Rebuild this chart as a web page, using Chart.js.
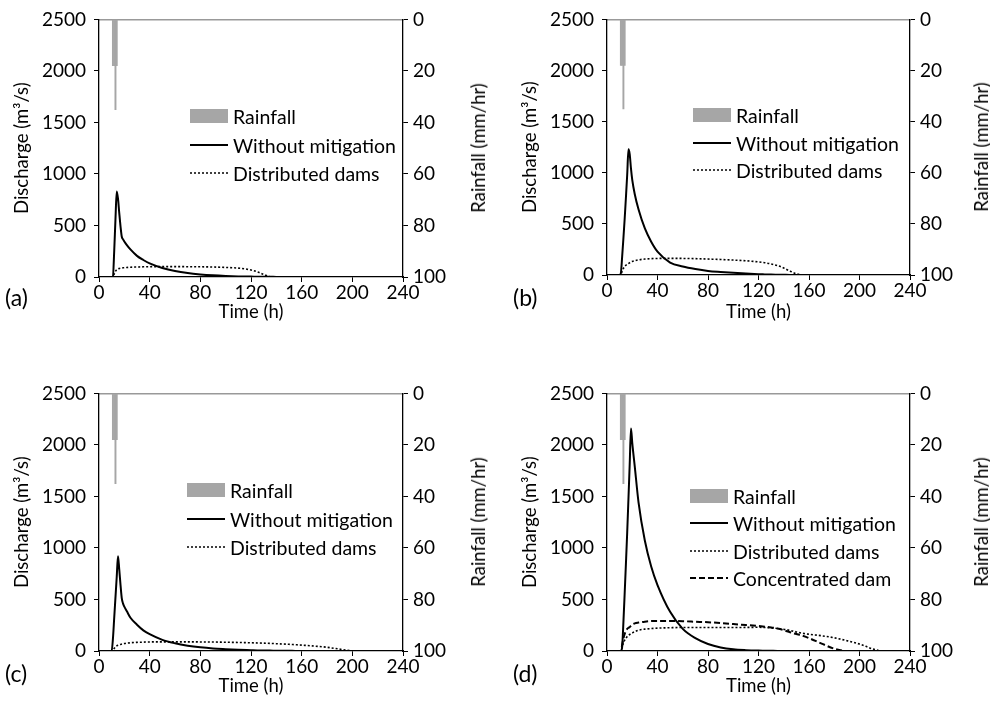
<!DOCTYPE html>
<html>
<head>
<meta charset="utf-8">
<script src="https://cdn.jsdelivr.net/npm/chart.js@4.4.0/dist/chart.umd.min.js"></script>
<style>
  body { margin: 0; width: 990px; height: 719px; position: relative; overflow: hidden; background: #fff; font-family: Lato, sans-serif; color: #000; }
  canvas { position: absolute; }
  .leg { position: absolute; display: flex; align-items: center; height: 24px; font-size: 19.5px; white-space: nowrap; }
  .leg svg { margin-right: 5px; }
  .tag { position: absolute; font-size: 23px; }
  .rtitle { position: absolute; font-size: 18.5px; font-weight: 400; color: #000; white-space: nowrap; transform: translate(-50%, -50%) rotate(-90deg); }
</style>
</head>
<body>
<script>
// time axis shared by every series (h)
const hours = [0, 10, 11, 12, 13, 14, 15, 16, 17, 18, 19, 20, 22, 25, 30, 35, 40, 50, 60, 70, 80, 90, 100, 110, 120,
  125, 130, 135, 140, 145, 150, 155, 160, 170, 180, 190, 200, 205, 210, 215, 220, 240];

// rainfall hyetograph (mm/hr), same storm in all four cases
const rainHours = [11, 12, 13, 14];
const rainValues = [18, 18, 35, 18];

// discharge (m3/s)
const aWithout = [0, 0, 5, 250, 560, 830, 760, 620, 490, 390, 365, 345, 310, 265, 205, 165, 132, 88, 58, 38, 25, 16, 10, 6, 4,
  3, 2, 2, 1, 1, 0, 0, 0, 0, 0, 0, 0, null, null, null, null, null];
const aDistributed = [0, 0, 0, 30, 55, 70, 78, 82, 85, 87, 89, 90, 92, 95, 97, 99, 100, 101, 101, 100, 99, 97, 93, 86, 68,
  50, 25, 3, 0, 0, 0, 0, 0, 0, 0, 0, 0, null, null, null, null, null];

const bWithout = [0, 0, 20, 180, 360, 550, 760, 980, 1230, 1180, 1040, 930, 790, 640, 455, 325, 228, 122, 83, 58, 40, 30, 22, 14, 8,
  6, 4, 3, 2, 1, 1, 0, 0, 0, 0, 0, 0, null, null, null, null, null];
const bDistributed = [0, 0, 0, 40, 65, 82, 95, 105, 112, 120, 127, 133, 140, 148, 156, 160, 162, 163, 162, 160, 156, 152, 146, 139, 128,
  120, 108, 92, 68, 38, 12, 0, 0, 0, 0, 0, 0, null, null, null, null, null];

const cWithout = [0, 0, 120, 320, 520, 720, 920, 790, 640, 510, 460, 430, 385, 320, 255, 200, 163, 108, 75, 52, 36, 25, 18, 12, 8,
  6, 5, 4, 3, 2, 2, 1, 1, 0, 0, 0, 0, null, null, null, null, null];
const cDistributed = [0, 0, 0, 25, 40, 50, 56, 60, 64, 67, 70, 72, 76, 80, 84, 86, 88, 89, 89, 89, 88, 87, 85, 83, 80,
  78, 76, 74, 71, 68, 65, 61, 57, 48, 36, 18, 0, null, null, null, null, null];

const dWithout = [0, 0, 0, 40, 280, 560, 850, 1150, 1480, 1820, 2160, 2020, 1790, 1440, 1070, 820, 640, 380, 215, 125, 68, 34, 16, 8, 4,
  3, 2, 1, 1, 0, 0, 0, 0, 0, 0, 0, 0, null, null, null, null, null];
const dDistributed = [0, 0, 0, 40, 80, 105, 125, 140, 150, 160, 168, 175, 188, 202, 212, 218, 222, 226, 228, 228, 228, 228, 228, 229, 230,
  228, 224, 218, 210, 200, 185, 172, 163, 148, 128, 100, 67, 45, 22, 5, 0, 0];
const dConcentrated = [0, 0, 0, 60, 120, 165, 195, 215, 225, 232, 245, 255, 268, 276, 285, 290, 291, 291, 289, 284, 279, 272, 262, 252, 242,
  236, 229, 218, 202, 182, 165, 148, 125, 72, 22, 0, 0, 0, 0, 0, 0, 0];

Chart.defaults.font.family = 'Lato, sans-serif';
Chart.defaults.font.size = 18.5;
Chart.defaults.color = '#000';

const tickFont = { size: 19 };
const plain = v => String(v);

const styles = {
  solid: { borderColor: '#000', borderWidth: 2, borderDash: [] },
  dot: { borderColor: '#000', borderWidth: 1.6, borderDash: [2, 2] },
  dash: { borderColor: '#000', borderWidth: 2, borderDash: [6, 3] }
};

const panels = [
  { tag: '(a)', left: 0, top: 0, w: 495, h: 330, area: { l: 99, r: 403, t: 19, b: 277 },
    series: [['Without mitigation', aWithout, 'solid'], ['Distributed dams', aDistributed, 'dot']],
    legX: 190, legY: [116, 145, 173], tagPos: [5, 297], rt: [478, 148] },
  { tag: '(b)', left: 508, top: 0, w: 482, h: 330, area: { l: 99, r: 402, t: 19, b: 275 },
    series: [['Without mitigation', bWithout, 'solid'], ['Distributed dams', bDistributed, 'dot']],
    legX: 693, legY: [115, 143, 170], tagPos: [513, 297], rt: [981, 147] },
  { tag: '(c)', left: 0, top: 374, w: 495, h: 330, area: { l: 99, r: 403, t: 19, b: 277 },
    series: [['Without mitigation', cWithout, 'solid'], ['Distributed dams', cDistributed, 'dot']],
    legX: 187, legY: [490, 519, 547], tagPos: [5, 673], rt: [478, 522] },
  { tag: '(d)', left: 508, top: 374, w: 482, h: 330, area: { l: 99, r: 402, t: 19, b: 277 },
    series: [['Without mitigation', dWithout, 'solid'], ['Distributed dams', dDistributed, 'dot'], ['Concentrated dam', dConcentrated, 'dash']],
    legX: 690, legY: [496, 523, 551, 578], tagPos: [513, 673], rt: [981, 522] }
];

function symbol(kind) {
  if (kind === 'rain') return '<svg width="38" height="14"><rect x="0" y="0" width="38" height="14" fill="#a6a6a6"/></svg>';
  const s = styles[kind];
  return '<svg width="38" height="14"><line x1="0" y1="7" x2="38" y2="7" stroke="#000" stroke-width="' + s.borderWidth +
    '" stroke-dasharray="' + (s.borderDash.join(',') || 'none') + '"/></svg>';
}

function addDiv(cls, html, x, y) {
  const d = document.createElement('div');
  d.className = cls;
  d.innerHTML = html;
  d.style.left = x + 'px';
  d.style.top = y + 'px';
  document.body.appendChild(d);
  return d;
}

panels.forEach(p => {
  const cv = document.createElement('canvas');
  cv.width = p.w; cv.height = p.h;
  cv.style.left = p.left + 'px'; cv.style.top = p.top + 'px';
  document.body.appendChild(cv);

  const datasets = p.series.map(([label, vals, kind]) => ({
    type: 'line', label,
    data: hours.map((h, i) => ({ x: h, y: vals[i] })),
    ...styles[kind],
    pointRadius: 0, fill: false,
    cubicInterpolationMode: 'monotone',
    xAxisID: 'x', yAxisID: 'y'
  }));
  datasets.push({
    type: 'bar', label: 'Rainfall',
    data: rainHours.map((h, i) => ({ x: h, y: rainValues[i] })),
    backgroundColor: '#a6a6a6', borderWidth: 0,
    barPercentage: 1, categoryPercentage: 1, grouped: false,
    xAxisID: 'x', yAxisID: 'y1'
  });

  new Chart(cv, {
    type: 'line',
    data: { datasets },
    options: {
      responsive: false, animation: false, devicePixelRatio: 1,
      layout: { padding: 0 },
      plugins: { legend: { display: false }, tooltip: { enabled: false } },
      scales: {
        x: {
          type: 'linear', position: 'bottom', min: 0, max: 240, offset: false,
          ticks: { stepSize: 40, padding: -1, maxRotation: 0, font: tickFont, callback: plain },
          grid: { drawOnChartArea: false, tickLength: 5, color: '#000', offset: false },
          border: { color: '#000', width: 1.3 },
          title: { display: true, text: 'Time (h)', padding: { top: 0, bottom: 7 } },
          afterFit: s => { s.height = p.h - p.area.b; }
        },
        x2: {
          type: 'linear', position: 'top', min: 0, max: 240,
          ticks: { display: false },
          grid: { display: false },
          border: { color: '#999', width: 1.5 },
          afterFit: s => { s.height = p.area.t; }
        },
        y: {
          position: 'left', min: 0, max: 2500,
          ticks: { stepSize: 500, padding: 8, font: tickFont, callback: plain },
          grid: { drawOnChartArea: false, tickLength: 5, color: '#000' },
          border: { color: '#000', width: 1.3 },
          title: { display: true, text: 'Discharge (m³/s)', padding: { top: 11, bottom: 0 } },
          afterFit: s => { s.width = p.area.l; }
        },
        y1: {
          position: 'right', min: 0, max: 100, reverse: true,
          ticks: { stepSize: 20, padding: 5, font: tickFont, callback: plain },
          grid: { drawOnChartArea: false, tickLength: 5, color: '#000' },
          border: { color: '#000', width: 1.3 },
          afterFit: s => { s.width = p.w - p.area.r; }
        }
      }
    }
  });

  // legend, drawn as page text
  const rows = [['rain', 'Rainfall']].concat(p.series.map(s => [s[2], s[0]]));
  rows.forEach(([kind, label], i) => {
    addDiv('leg', symbol(kind) + '<span>' + label + '</span>', p.legX, p.legY[i] - 12);
  });
  addDiv('tag', p.tag, p.tagPos[0], p.tagPos[1] - 14);
  addDiv('rtitle', 'Rainfall (mm/hr)', p.rt[0], p.rt[1]);
});
</script>
</body>
</html>
